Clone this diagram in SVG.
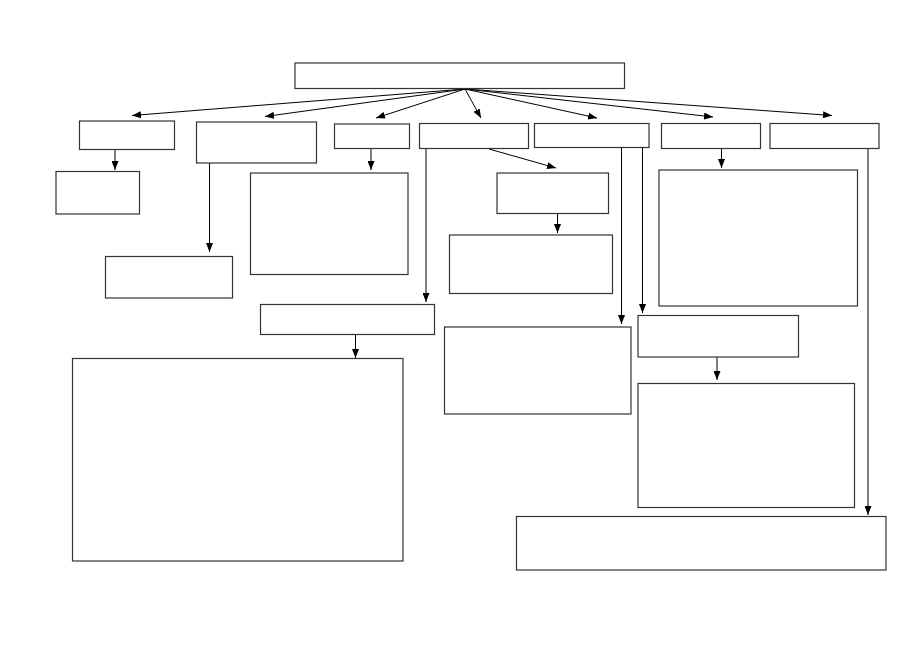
<svg xmlns="http://www.w3.org/2000/svg" width="919" height="650" viewBox="0 0 919 650">
<style>
.n{fill:#fff;stroke:#333;stroke-width:1.2}
.c{fill:none;stroke:#000;stroke-width:1}
</style>
<defs>
<marker id="ah" markerUnits="userSpaceOnUse" markerWidth="9" markerHeight="7" refX="9" refY="3.5" orient="auto"><path d="M0,0 L9,3.5 L0,7 z" fill="#000"/></marker>
</defs>
<rect width="919" height="650" fill="#fff"/>
<g id="connectors">
<path class="c" marker-end="url(#ah)" d="M465,89 L132,115.5"/>
<path class="c" marker-end="url(#ah)" d="M465,89 L265,116.5"/>
<path class="c" marker-end="url(#ah)" d="M465,89 L376,118"/>
<path class="c" marker-end="url(#ah)" d="M465,89 L481,118"/>
<path class="c" marker-end="url(#ah)" d="M465,89 L597,118"/>
<path class="c" marker-end="url(#ah)" d="M465,89 L713,117"/>
<path class="c" marker-end="url(#ah)" d="M465,89 L832,115.5"/>
<path class="c" marker-end="url(#ah)" d="M115,150 L115,170"/>
<path class="c" marker-end="url(#ah)" d="M209.5,163 L209.5,252"/>
<path class="c" marker-end="url(#ah)" d="M371,149 L371,170"/>
<path class="c" marker-end="url(#ah)" d="M426,149 L426,302"/>
<path class="c" marker-end="url(#ah)" d="M355.5,334 L355.5,358"/>
<path class="c" marker-end="url(#ah)" d="M489,149 L556,168"/>
<path class="c" marker-end="url(#ah)" d="M557.5,213 L557.5,233"/>
<path class="c" marker-end="url(#ah)" d="M621.5,148 L621.5,324"/>
<path class="c" marker-end="url(#ah)" d="M642.5,148 L642.5,313"/>
<path class="c" marker-end="url(#ah)" d="M721.5,149 L721.5,168"/>
<path class="c" marker-end="url(#ah)" d="M717,357 L717,380"/>
<path class="c" marker-end="url(#ah)" d="M868,149 L868,515"/>
</g>
<g id="top"><rect class="n" x="295" y="63" width="329.5" height="25.5"/></g>
<g id="b1"><rect class="n" x="79.5" y="121" width="95" height="28.5"/></g>
<g id="b2"><rect class="n" x="196.5" y="122" width="120" height="41"/></g>
<g id="b3"><rect class="n" x="334.5" y="124" width="75" height="24.5"/></g>
<g id="b4"><rect class="n" x="419.5" y="123.5" width="109" height="25"/></g>
<g id="b5"><rect class="n" x="534.5" y="123.5" width="114.5" height="24"/></g>
<g id="b6"><rect class="n" x="661.5" y="123.5" width="99" height="25"/></g>
<g id="b7"><rect class="n" x="770" y="123.5" width="109" height="25"/></g>
<g id="c1"><rect class="n" x="56" y="171.5" width="83.5" height="42.5"/></g>
<g id="c2"><rect class="n" x="105.5" y="256.5" width="127" height="41.5"/></g>
<g id="c3"><rect class="n" x="250.5" y="173" width="157.5" height="101.5"/></g>
<g id="c4"><rect class="n" x="260.5" y="304.5" width="174" height="30"/></g>
<g id="c5"><rect class="n" x="72.5" y="358.5" width="330.5" height="202.5"/></g>
<g id="c6"><rect class="n" x="497" y="173" width="111.5" height="40.5"/></g>
<g id="c7"><rect class="n" x="449.5" y="235" width="163" height="58.5"/></g>
<g id="c8"><rect class="n" x="444.5" y="327" width="186.5" height="87"/></g>
<g id="c9"><rect class="n" x="638" y="315.5" width="160.5" height="41.5"/></g>
<g id="c10"><rect class="n" x="638" y="383.5" width="216.5" height="124"/></g>
<g id="c11"><rect class="n" x="659" y="170" width="198.5" height="136"/></g>
<g id="c12"><rect class="n" x="516.5" y="516.5" width="369.5" height="53.5"/></g>
</svg>
